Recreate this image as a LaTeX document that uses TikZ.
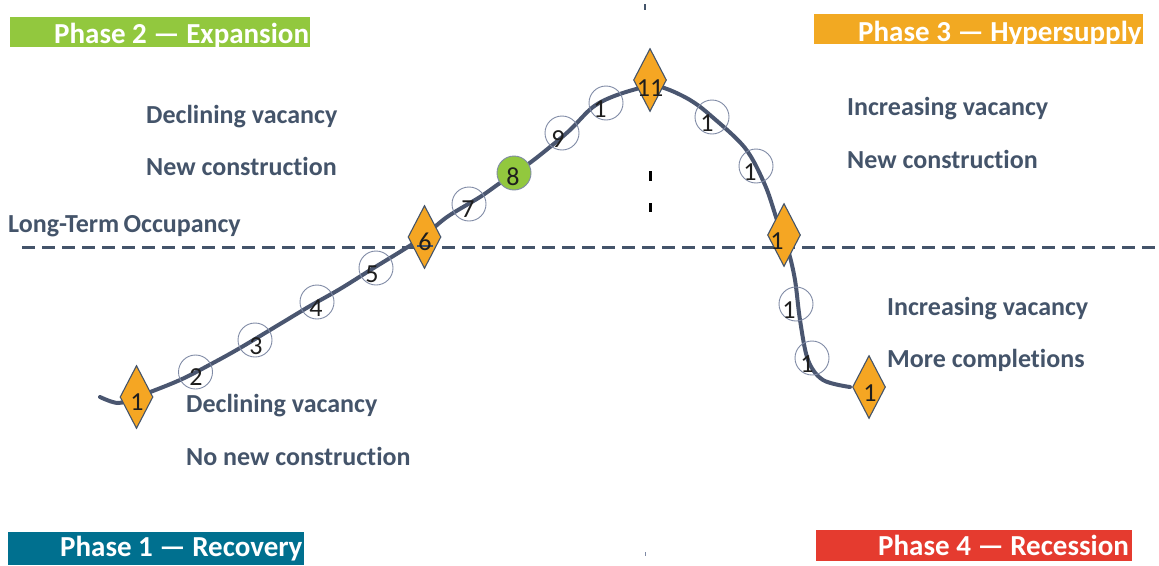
\documentclass[tikz,border=0pt]{standalone}
\usepackage{fontspec}
\setmainfont{Carlito}[Ligatures={NoCommon}]
\usetikzlibrary{shapes.geometric}
\definecolor{slate}{HTML}{44546A}
\definecolor{curvec}{HTML}{4A5670}
\definecolor{ringc}{HTML}{7F8AA5}
\definecolor{mkorange}{HTML}{F5A623}
\definecolor{mkgreen}{HTML}{92C83E}
\definecolor{bgreen}{HTML}{92C83E}
\definecolor{borange}{HTML}{F2A922}
\definecolor{bteal}{HTML}{00708F}
\definecolor{bred}{HTML}{E53B2F}
\definecolor{numc}{HTML}{1E1E1E}
\tikzset{
  note/.style={font=\bfseries\fontsize{26}{30}\selectfont, text=slate, anchor=base west, inner sep=0},
  bannertext/.style={font=\bfseries\fontsize{29}{33}\selectfont, text=white, anchor=base west, inner sep=0},
  ring/.style={circle, draw=ringc, line width=0.9pt, minimum size=34pt, inner sep=0},
  greenring/.style={ring, fill=mkgreen},
  gem/.style={diamond, draw=slate, line width=1.1pt, fill=mkorange, minimum width=33pt, minimum height=63pt, inner sep=0},
  num/.style={font=\fontsize{26}{28}\selectfont, text=numc, inner sep=0},
  curve/.style={draw=curvec, line width=4pt, line cap=round},
  occupancy/.style={draw=slate, line width=3pt, dash pattern=on 13pt off 7pt},
}
\begin{document}
\begin{tikzpicture}[x=1pt,y=-1pt]
\useasboundingbox (0,0) rectangle (1159,565);

% phase banners, text clipped to the band
\begin{scope}
  \clip (10,17) rectangle (310,47);
  \fill[bgreen] (10,17) rectangle (310,47);
  \node[bannertext] (p2) at (54,43.5) {Phase 2 — Expansion};
\end{scope}
\begin{scope}
  \clip (814,14) rectangle (1143,43.5);
  \fill[borange] (814,14) rectangle (1143,43.5);
  \node[bannertext] (p3) at (858,41.5) {Phase 3 — Hypersupply};
\end{scope}
\begin{scope}
  \clip (8,532) rectangle (304,565);
  \fill[bteal] (8,532) rectangle (304,565);
  \node[bannertext] (p1) at (60,556.5) {Phase 1 — Recovery};
\end{scope}
\begin{scope}
  \clip (816,530) rectangle (1132,561);
  \fill[bred] (816,530) rectangle (1132,561);
  \node[bannertext] (p4) at (878,555) {Phase 4 — Recession};
\end{scope}

% remnants of the vertical divider
\fill[slate] (644,4) rectangle (646,10);
\fill[black] (648.5,171) rectangle (651.5,181);
\fill[black] (648.5,203) rectangle (651.5,212);
\fill[ringc] (644.5,552) rectangle (645.5,556);

% descriptive notes
\node[note] (t1) at (146,123) {Declining vacancy};
\node[note] (t2) at (146,175) {New construction};
\node[note] (t3) at (847,115) {Increasing vacancy};
\node[note] (t4) at (847,168) {New construction};
\node[note] (t5) at (887,315) {Increasing vacancy};
\node[note] (t6) at (887,367) {More completions};
\node[note] (t7) at (186,412) {Declining vacancy};
\node[note] (t8) at (186,465) {No new construction};
\node[note] (lt) at (8,232) {Long-Term\,Occupancy};

% long-term occupancy level
\coordinate (occL) at (22,247.5);
\coordinate (occR) at (1159,247.5);
\draw[occupancy] (occL) -- (occR);

% market cycle curve
\draw[curve] plot[smooth, tension=0.55] coordinates {
  (100,397) (118,403) (137,397) (180,380) (213,363) (240,348)
  (280,324) (310,306) (340,289) (372,269) (403,250) (423,237)
  (447,217) (480,197) (500,183) (527,165) (550,147) (570,130)
  (593,107) (617,95) (650,86) (667,89) (690,100) (710,115)
  (745,148) (765,185) (777,220) (788,250) (795,280) (800,320)
  (808,360) (823,380) (850,387)};

% cycle markers
\node[gem]  (m1)  at (136.5,397) {};
\node[ring] (m2)  at (195.5,372) {};
\node[ring] (m3)  at (255,340) {};
\node[ring] (m4)  at (317,302) {};
\node[ring] (m5)  at (376,268) {};
\node[gem]  (m6)  at (424.5,237) {};
\node[ring] (m7)  at (469,204) {};
\node[greenring] (m8) at (514,173) {};
\node[ring] (m9)  at (562,133) {};
\node[ring] (m10) at (606,103) {};
\node[gem]  (m11) at (650,80) {};
\node[ring] (m12) at (712,117) {};
\node[ring] (m13) at (756,166) {};
\node[gem]  (m14) at (784,235) {};
\node[ring] (m15) at (796,304) {};
\node[ring] (m16) at (812,358) {};
\node[gem]  (m17) at (869,387) {};

% one dash of the occupancy line shows across marker 6
\coordinate (dashA) at (417,245.5);
\coordinate (dashB) at (433,245.5);
\draw[draw=slate, line width=2pt] (dashA) -- (dashB);

% marker numbers
\node[num] (n1)  at (137,402) {1};
\node[num] (n2)  at (196,377) {2};
\node[num] (n3)  at (256,346) {3};
\node[num] (n4)  at (316,308) {4};
\node[num] (n5)  at (372,274) {5};
\node[num] (n6)  at (425,242) {6};
\node[num] (n7)  at (468,209) {7};
\node[num] (n8)  at (513,177) {8};
\node[num] (n9)  at (558,139) {9};
\node[num] (n10) at (600,109) {1};
\node[num] (n11) at (650,88) {11};
\node[num] (n12) at (707,123) {1};
\node[num] (n13) at (750,172) {1};
\node[num] (n14) at (777,241) {1};
\node[num] (n15) at (789,310) {1};
\node[num] (n16) at (807,364) {1};
\node[num] (n17) at (870,393) {1};
\end{tikzpicture}
\end{document}
